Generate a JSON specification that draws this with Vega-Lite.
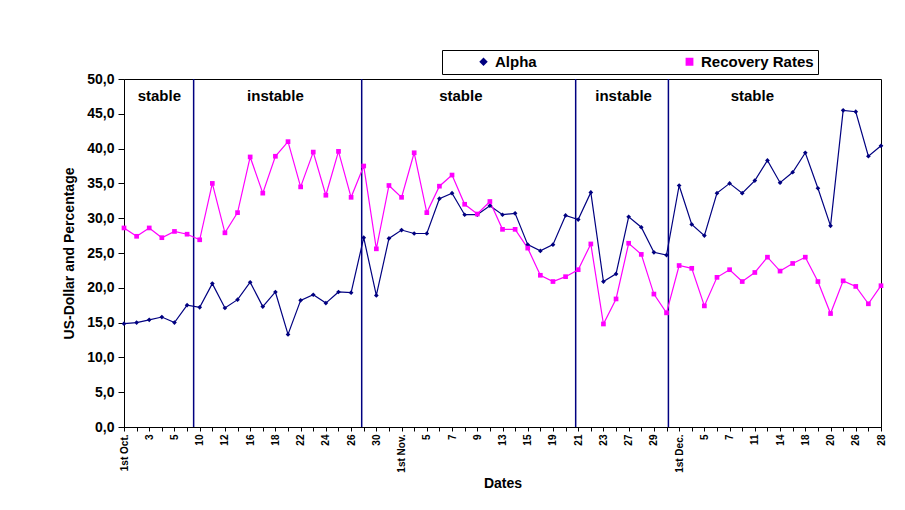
{
"$schema":"https://vega.github.io/schema/vega-lite/v6.json",
"autosize":"none",
"width":757,"height":348,
"padding":{"left":124,"top":79,"right":24,"bottom":83},
"background":"white",
"config":{"font":"Liberation Sans","view":{"stroke":"black","strokeWidth":1}},
"datasets":{
"pts":[
{"i":0,"a":14.85,"r":28.6},{"i":1,"a":15.0,"r":27.4},{"i":2,"a":15.4,"r":28.6},{"i":3,"a":15.8,"r":27.2},{"i":4,"a":15.0,"r":28.1},
{"i":5,"a":17.5,"r":27.7},{"i":6,"a":17.2,"r":26.9},{"i":7,"a":20.6,"r":35.0},{"i":8,"a":17.1,"r":27.9},{"i":9,"a":18.3,"r":30.8},
{"i":10,"a":20.8,"r":38.8},{"i":11,"a":17.3,"r":33.6},{"i":12,"a":19.4,"r":38.9},{"i":13,"a":13.3,"r":41.0},{"i":14,"a":18.2,"r":34.5},
{"i":15,"a":19.0,"r":39.5},{"i":16,"a":17.8,"r":33.3},{"i":17,"a":19.4,"r":39.6},{"i":18,"a":19.3,"r":33.0},{"i":19,"a":27.2,"r":37.5},
{"i":20,"a":18.9,"r":25.6},{"i":21,"a":27.1,"r":34.7},{"i":22,"a":28.3,"r":33.0},{"i":23,"a":27.8,"r":39.4},{"i":24,"a":27.8,"r":30.8},
{"i":25,"a":32.8,"r":34.6},{"i":26,"a":33.6,"r":36.2},{"i":27,"a":30.5,"r":32.0},{"i":28,"a":30.5,"r":30.6},{"i":29,"a":31.8,"r":32.4},
{"i":30,"a":30.5,"r":28.4},{"i":31,"a":30.7,"r":28.4},{"i":32,"a":26.2,"r":25.7},{"i":33,"a":25.3,"r":21.8},{"i":34,"a":26.2,"r":20.9},
{"i":35,"a":30.4,"r":21.6},{"i":36,"a":29.8,"r":22.6},{"i":37,"a":33.7,"r":26.3},{"i":38,"a":20.9,"r":14.8},{"i":39,"a":22.0,"r":18.4},
{"i":40,"a":30.2,"r":26.4},{"i":41,"a":28.7,"r":24.8},{"i":42,"a":25.1,"r":19.1},{"i":43,"a":24.7,"r":16.4},{"i":44,"a":34.7,"r":23.2},
{"i":45,"a":29.1,"r":22.8},{"i":46,"a":27.5,"r":17.4},{"i":47,"a":33.6,"r":21.5},{"i":48,"a":35.0,"r":22.6},{"i":49,"a":33.6,"r":20.9},
{"i":50,"a":35.4,"r":22.2},{"i":51,"a":38.3,"r":24.4},{"i":52,"a":35.1,"r":22.4},{"i":53,"a":36.6,"r":23.5},{"i":54,"a":39.4,"r":24.4},
{"i":55,"a":34.3,"r":20.9},{"i":56,"a":28.9,"r":16.3},{"i":57,"a":45.5,"r":21.0},{"i":58,"a":45.3,"r":20.2},{"i":59,"a":38.9,"r":17.7},
{"i":60,"a":40.4,"r":20.3}],
"regions":[
{"b":5.52,"c":2.8,"label":"stable"},
{"b":18.84,"c":12.0,"label":"instable"},
{"b":35.8,"c":26.7,"label":"stable"},
{"b":43.15,"c":39.6,"label":"instable"},
{"b":null,"c":49.8,"label":"stable"}]
},
"layer":[
{"data":{"name":"regions"},"transform":[{"filter":"datum.b != null"}],
 "mark":{"type":"rule","color":"#000080","strokeWidth":1.5},
 "encoding":{"x":{"field":"b","type":"quantitative"}}},
{"data":{"name":"regions"},
 "mark":{"type":"text","fontWeight":"bold","fontSize":15,"color":"black"},
 "encoding":{"x":{"field":"c","type":"quantitative"},"y":{"datum":47.5},"text":{"field":"label"}}},
{"data":{"name":"pts"},
 "transform":[{"fold":["a","r"],"as":["k","v"]},{"calculate":"datum.k=='a'?'Alpha':'Recovery Rates'","as":"Series"}],
 "mark":{"type":"line","strokeWidth":1.2,"point":{"size":22,"filled":true}},
 "encoding":{
  "x":{"field":"i","type":"quantitative","scale":{"domain":[0,60],"nice":false,"zero":false},
   "axis":{"title":"Dates","titleFontSize":14,"titleFontWeight":"bold","titleColor":"black","titlePadding":4,"tickCount":200,
    "values":[0,1,2,3,4,5,6,7,8,9,10,11,12,13,14,15,16,17,18,19,20,21,22,23,24,25,26,27,28,29,30,31,32,33,34,35,36,37,38,39,40,41,42,43,44,45,46,47,48,49,50,51,52,53,54,55,56,57,58,59,60],
    "labelExpr":"datum.value % 2 == 0 ? ['1st Oct.','3','5','10','12','16','18','22','24','26','30','1st Nov.','5','7','9','13','15','19','21','23','27','29','1st Dec.','5','7','11','14','18','20','26','28'][datum.value/2] : ''",
    "labelAngle":270,"labelAlign":"right","labelBaseline":"middle","labelFontSize":10,"labelFontWeight":"bold","labelColor":"black","labelOverlap":false,"labelPadding":3,
    "grid":false,"domainColor":"black","tickColor":"black","tickSize":4}},
  "y":{"field":"v","type":"quantitative","scale":{"domain":[0,50],"nice":false},
   "axis":{"title":"US-Dollar and Percentage","titleFontSize":14,"titleFontWeight":"bold","titleColor":"black","titlePadding":10,"tickCount":50,"labelOverlap":false,
    "values":[0,5,10,15,20,25,30,35,40,45,50],"labelExpr":"replace(format(datum.value,'.1f'),'.',',')",
    "labelFontSize":14,"labelFontWeight":"bold","labelColor":"black","labelPadding":4,
    "gridColor":"#222222","gridWidth":1,"domainColor":"black","tickColor":"black","tickSize":6}},
  "color":{"field":"Series","type":"nominal","scale":{"domain":["Alpha","Recovery Rates"],"range":["#000080","#FF00FF"]},
   "legend":{"title":null,"orient":"none","legendX":318,"legendY":-29,"direction":"horizontal","columnPadding":115,
    "labelFontSize":15,"labelFontWeight":"bold","labelColor":"black","symbolStrokeWidth":1.5,
    "strokeColor":"black","padding":4,"symbolSize":40,"symbolOffset":30}},
  "shape":{"field":"Series","type":"nominal","scale":{"domain":["Alpha","Recovery Rates"],"range":["diamond","square"]},"legend":null}
 }}
]
}
